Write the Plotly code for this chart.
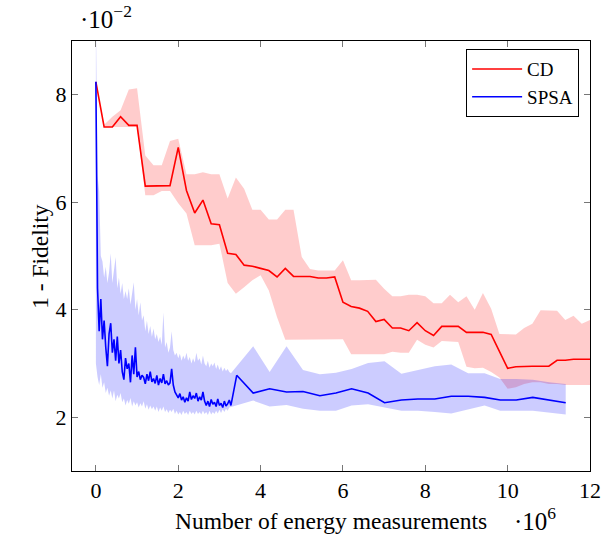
import plotly.graph_objects as go

# CD runs (x in units of 1e6 measurements, y in units of 1e-2)
cd_x = [0.0, 0.2, 0.4, 0.6, 0.8, 1.0, 1.2, 1.4, 1.6, 1.8,
        2.0, 2.2, 2.4, 2.6, 2.8, 3.0, 3.2, 3.4, 3.6, 3.8,
        4.0, 4.2, 4.4, 4.6, 4.8, 5.0, 5.2, 5.4, 5.6, 5.8,
        6.0, 6.2, 6.4, 6.6, 6.8, 7.0, 7.2, 7.4, 7.6, 7.8,
        8.0, 8.2, 8.4, 8.6, 8.8, 9.0, 9.2, 9.4, 9.6, 9.8,
        10.0, 10.2, 10.4, 10.6, 10.8, 11.0, 11.2, 11.4, 11.6, 11.8, 12.0]
cd_mean = [8.24, 7.40, 7.40, 7.59, 7.43, 7.43, 6.30, 6.30, 6.30, 6.31,
           7.02, 6.22, 5.80, 6.04, 5.60, 5.58, 5.05, 5.03, 4.83, 4.81,
           4.77, 4.73, 4.61, 4.77, 4.62, 4.62, 4.62, 4.59, 4.59, 4.61,
           4.14, 4.06, 4.03, 3.97, 3.78, 3.82, 3.66, 3.66, 3.61, 3.76,
           3.61, 3.52, 3.69, 3.69, 3.69, 3.58, 3.58, 3.58, 3.54, 3.23,
           2.91, 2.94, 2.95, 2.95, 2.95, 2.95, 3.06, 3.06, 3.08, 3.08, 3.08]
cd_upper = [7.44, 7.59, 7.71, 8.10, 8.12, 6.87, 6.69, 6.69, 7.14,
            7.18, 6.52, 6.52, 6.56, 6.52, 6.52, 6.07, 6.46, 6.25, 5.86,
            5.86, 5.68, 5.68, 5.86, 5.86, 4.98, 4.76, 4.73, 4.73, 4.73,
            4.92, 4.55, 4.55, 4.56, 4.56, 4.39, 4.25, 4.25, 4.28, 4.28,
            4.25, 4.12, 4.12, 4.28, 4.14, 4.25, 4.00, 4.31, 4.02, 3.55,
            3.54, 3.54, 3.66, 3.74, 3.99, 3.99, 3.98, 3.81, 3.89, 3.74, 3.81]
cd_lower = [7.40, 7.40, 7.40, 7.40, 7.40, 6.13, 6.13, 6.21, 6.21,
            5.98, 5.79, 5.20, 5.20, 5.20, 5.23, 4.50, 4.30, 4.42, 4.55,
            4.64, 4.36, 3.86, 3.44, 3.44, 3.45, 3.45, 3.45, 3.45, 3.45,
            3.45, 3.17, 3.17, 3.17, 3.17, 3.17, 3.22, 3.20, 3.20, 3.44,
            3.35, 3.30, 3.42, 3.41, 3.40, 2.94, 2.91, 2.92, 2.84, 2.74,
            2.53, 2.56, 2.62, 2.65, 2.65, 2.62, 2.62, 2.60, 2.60, 2.60, 2.60]

# SPSA runs
spsa_x = [0.00, 0.04, 0.08, 0.12, 0.16, 0.20, 0.24, 0.28, 0.32, 0.36,
          0.40, 0.44, 0.48, 0.52, 0.56, 0.60, 0.64, 0.68, 0.72, 0.76,
          0.80, 0.84, 0.88, 0.92, 0.96, 1.00, 1.04, 1.08, 1.12, 1.16,
          1.20, 1.24, 1.28, 1.32, 1.36, 1.40, 1.44, 1.48, 1.52, 1.56,
          1.60, 1.64, 1.68, 1.72, 1.76, 1.80, 1.84, 1.88, 1.92, 1.96,
          2.00, 2.04, 2.08, 2.12, 2.16, 2.20, 2.24, 2.28, 2.32, 2.36,
          2.40, 2.44, 2.48, 2.52, 2.56, 2.60, 2.64, 2.68, 2.72, 2.76,
          2.80, 2.84, 2.88, 2.92, 2.96, 3.00, 3.04, 3.08, 3.12, 3.16,
          3.20, 3.24, 3.28,
          3.42, 3.82, 4.22, 4.63, 5.03, 5.44, 5.83, 6.21, 6.61, 7.01,
          7.42, 7.82, 8.23, 8.63, 9.04, 9.44, 9.82, 10.21, 10.61, 11.01, 11.41]
spsa_mean = [8.24, 4.40, 3.60, 4.20, 3.45, 3.80, 3.30, 2.95, 3.55, 3.75,
             3.20, 3.45, 3.05, 3.50, 3.00, 3.25, 2.85, 2.70, 3.10, 2.90,
             3.00, 2.65, 3.15, 2.80, 3.30, 2.75, 2.85, 2.70, 2.78, 2.74,
             2.62, 2.80, 2.68, 2.85, 2.66, 2.72, 2.63, 2.78, 2.60, 2.72,
             2.64, 2.80, 2.62, 2.68, 2.60, 2.64, 2.90, 2.60, 2.47, 2.40,
             2.36, 2.44, 2.32, 2.38, 2.28, 2.36, 2.30, 2.47, 2.33, 2.40,
             2.35, 2.45, 2.30, 2.38, 2.32, 2.47, 2.30, 2.22, 2.30, 2.20,
             2.33, 2.24, 2.28, 2.20, 2.34, 2.22, 2.26, 2.18, 2.30, 2.21,
             2.25, 2.32, 2.22,
             2.78, 2.45, 2.53, 2.47, 2.48, 2.40, 2.45, 2.53, 2.45, 2.27,
             2.32, 2.34, 2.34, 2.39, 2.39, 2.37, 2.32, 2.32, 2.37, 2.32, 2.27]
spsa_upper = [9.50, 6.50, 6.20, 5.00, 4.90, 4.60, 4.80, 4.50, 4.70, 5.05,
              4.50, 4.70, 4.98, 4.40, 4.60, 4.30, 4.50, 4.20, 4.35, 4.20,
              4.40, 4.10, 4.30, 4.51, 4.00, 4.20, 3.90, 4.14, 3.80, 3.90,
              3.60, 3.80, 3.55, 3.70, 3.50, 3.65, 3.45, 3.55, 3.40, 3.50,
              3.35, 3.95, 3.30, 3.40, 3.20, 3.30, 3.60, 3.25, 3.15, 3.20,
              3.10, 3.18, 3.05, 3.15, 3.08, 3.20, 3.05, 3.12, 3.00, 3.10,
              3.02, 3.20, 3.05, 3.10, 2.98, 3.15, 3.00, 2.95, 3.05, 2.92,
              3.00, 2.95, 3.02, 2.90, 2.98, 2.88, 2.95, 2.85, 2.92, 2.86,
              2.90, 2.84, 2.82,
              2.95, 3.32, 2.84, 3.32, 2.88, 2.80, 2.83, 2.90, 3.01, 3.04,
              2.81, 2.88, 2.95, 2.98, 2.82, 2.82, 2.71, 2.71, 2.70, 2.65, 2.62]
spsa_lower = [3.00, 2.75, 2.60, 2.80, 2.55, 2.65, 2.45, 2.55, 2.40, 2.50,
              2.35, 2.50, 2.30, 2.42, 2.35, 2.45, 2.28, 2.35, 2.22, 2.32,
              2.25, 2.36, 2.20, 2.30, 2.22, 2.28, 2.18, 2.26, 2.20, 2.30,
              2.16, 2.24, 2.14, 2.22, 2.15, 2.20, 2.12, 2.20, 2.10, 2.18,
              2.12, 2.20, 2.10, 2.15, 2.08, 2.14, 2.10, 2.16, 2.06, 2.12,
              2.05, 2.10, 2.04, 2.12, 2.06, 2.10, 2.04, 2.12, 2.06, 2.10,
              2.05, 2.12, 2.06, 2.10, 2.05, 2.12, 2.06, 2.10, 2.04, 2.12,
              2.05, 2.10, 2.06, 2.12, 2.07, 2.14, 2.08, 2.15, 2.10, 2.16,
              2.12, 2.18, 2.20,
              2.22, 2.31, 2.20, 2.23, 2.16, 2.12, 2.12, 2.22, 2.24, 2.18,
              2.12, 2.12, 2.10, 2.07, 2.14, 2.22, 2.12, 2.12, 2.12, 2.09, 2.05]

x_ticks = [0, 2, 4, 6, 8, 10, 12]
y_ticks = [2, 4, 6, 8]

font = "Liberation Serif"
fig = go.Figure()

# CD band and mean
cd_band_x = cd_x[1:]
fig.add_trace(go.Scatter(
    x=cd_band_x + cd_band_x[::-1], y=cd_upper + cd_lower[::-1],
    fill="toself", fillcolor="rgba(255,0,0,0.2)", mode="lines",
    line=dict(width=0), showlegend=False, hoverinfo="skip",
))
fig.add_trace(go.Scatter(
    x=cd_x, y=cd_mean, mode="lines", name="CD",
    line=dict(color="#ff0000", width=1.6),
))

# SPSA band and mean
fig.add_trace(go.Scatter(
    x=spsa_x + spsa_x[::-1], y=spsa_upper + spsa_lower[::-1],
    fill="toself", fillcolor="rgba(0,0,255,0.2)", mode="lines",
    line=dict(width=0), showlegend=False, hoverinfo="skip",
))
fig.add_trace(go.Scatter(
    x=spsa_x, y=spsa_mean, mode="lines", name="SPSA",
    line=dict(color="#0000ff", width=1.6),
))

axis_style = dict(
    showline=True, linecolor="black", linewidth=1, mirror="allticks",
    ticks="inside", ticklen=6, tickwidth=1, tickcolor="#777",
    showgrid=False, zeroline=False,
    tickfont=dict(family=font, size=22, color="black"),
)
fig.update_xaxes(range=[-0.58, 12], tickvals=x_ticks, **axis_style)
fig.update_yaxes(range=[1, 9], tickvals=y_ticks, **axis_style)

fig.update_layout(
    width=616, height=535,
    margin=dict(l=72, r=26, t=41, b=64),
    plot_bgcolor="white", paper_bgcolor="white",
    font=dict(family=font, size=18, color="black"),
    legend=dict(
        x=0.979, y=0.981, xanchor="right", yanchor="top",
        bgcolor="white", bordercolor="black", borderwidth=1,
        font=dict(family=font, size=19), itemwidth=50,
    ),
    annotations=[
        dict(text="Number of energy measurements", xref="paper", yref="paper",
             x=0.5, y=-0.116, yanchor="middle", showarrow=False,
             font=dict(size=23.5)),
        dict(text="1 - Fidelity", xref="paper", yref="paper",
             x=-0.091, y=0.5, textangle=-90, showarrow=False,
             font=dict(size=23.5)),
        dict(text="·10<sup>−2</sup>", xref="paper", yref="paper",
             x=0.012, y=1.055, xanchor="left", yanchor="middle",
             showarrow=False, font=dict(size=25)),
        dict(text="·10<sup>6</sup>", xref="paper", yref="paper",
             x=0.849, y=-0.112, xanchor="left", yanchor="middle",
             showarrow=False, font=dict(size=25)),
    ],
)

# drop the browser's default page margin so the figure sits at the corner
fig.write_html("out.html", config={"displayModeBar": False},
               post_script="document.body.style.margin='0';")
